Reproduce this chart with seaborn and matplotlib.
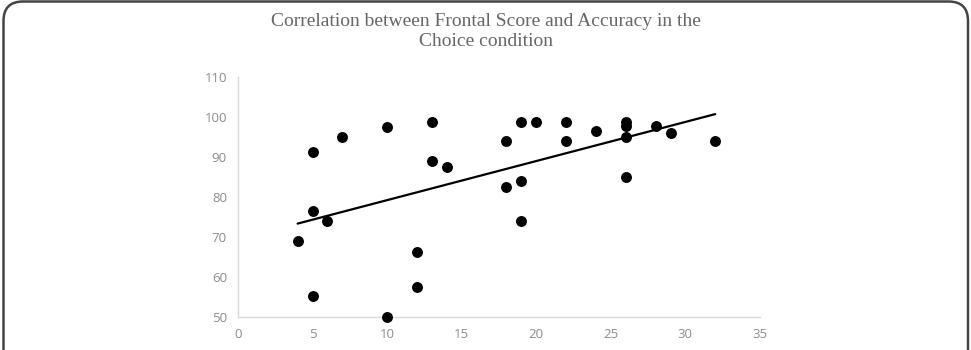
import numpy as np
import pandas as pd
import seaborn as sns
import matplotlib.pyplot as plt
from matplotlib.patches import FancyBboxPatch

# data
frontal_score = [4, 5, 5, 5, 6, 7, 10, 10, 12, 12, 13, 13, 14,
                 18, 18, 19, 19, 19, 20, 22, 22, 24, 26, 26, 26, 26, 28, 29, 32]
accuracy = [69, 91.3, 76.5, 55.2, 74, 95, 97.6, 50, 66.3, 57.6, 98.8, 88.9, 87.5,
            93.9, 82.6, 98.8, 83.9, 73.9, 98.8, 98.8, 93.9, 96.4, 98.8, 97.8, 95, 84.9,
            97.7, 96, 93.9]
x_ticks = [0, 5, 10, 15, 20, 25, 30, 35]
y_ticks = [50, 60, 70, 80, 90, 100, 110]
title = 'Correlation between Frontal Score and Accuracy in the\nChoice condition'

df = pd.DataFrame({'score': frontal_score, 'accuracy': accuracy})

sns.set_style('white')
fig = plt.figure(figsize=(9.71, 3.5), dpi=100)
ax = fig.add_axes([238 / 971, 1 - 317 / 350, (760 - 238) / 971, (317 - 77) / 350])

sns.regplot(data=df, x='score', y='accuracy', ax=ax, ci=None,
            scatter_kws=dict(s=62, color='black', alpha=1, linewidths=0, zorder=3),
            line_kws=dict(color='black', lw=1.6))

ax.set_xlim(0, 35)
ax.set_ylim(50, 110)
ax.set_xticks(x_ticks)
ax.set_yticks(y_ticks)
ax.set_xlabel('')
ax.set_ylabel('')
ax.tick_params(length=0, labelsize=9.5, labelcolor='#8c8c8c', pad=8)
for lab in ax.get_xticklabels() + ax.get_yticklabels():
    lab.set_family('Open Sans')
for side in ['top', 'right']:
    ax.spines[side].set_visible(False)
for side in ['left', 'bottom']:
    ax.spines[side].set_color('#d9d9d9')
    ax.spines[side].set_linewidth(1)
for coll in ax.collections:
    coll.set_clip_on(False)

fig.text(0.5, 1 - 13 / 350, title, ha='center', va='top',
         family='Liberation Serif', fontsize=14, color='#666666',
         linespacing=1.2)

# rounded frame around the figure (bottom edge cut off)
frame = FancyBboxPatch((3.5 / 971, -0.1), (968 - 3.5) / 971, 1.1 - 1.5 / 350,
                       boxstyle='round,pad=0,rounding_size=0.02',
                       transform=fig.transFigure, fill=False,
                       edgecolor='#444444', linewidth=1.8, mutation_aspect=971 / 350)
fig.patches.append(frame)

fig.savefig('out.png', dpi=100)
